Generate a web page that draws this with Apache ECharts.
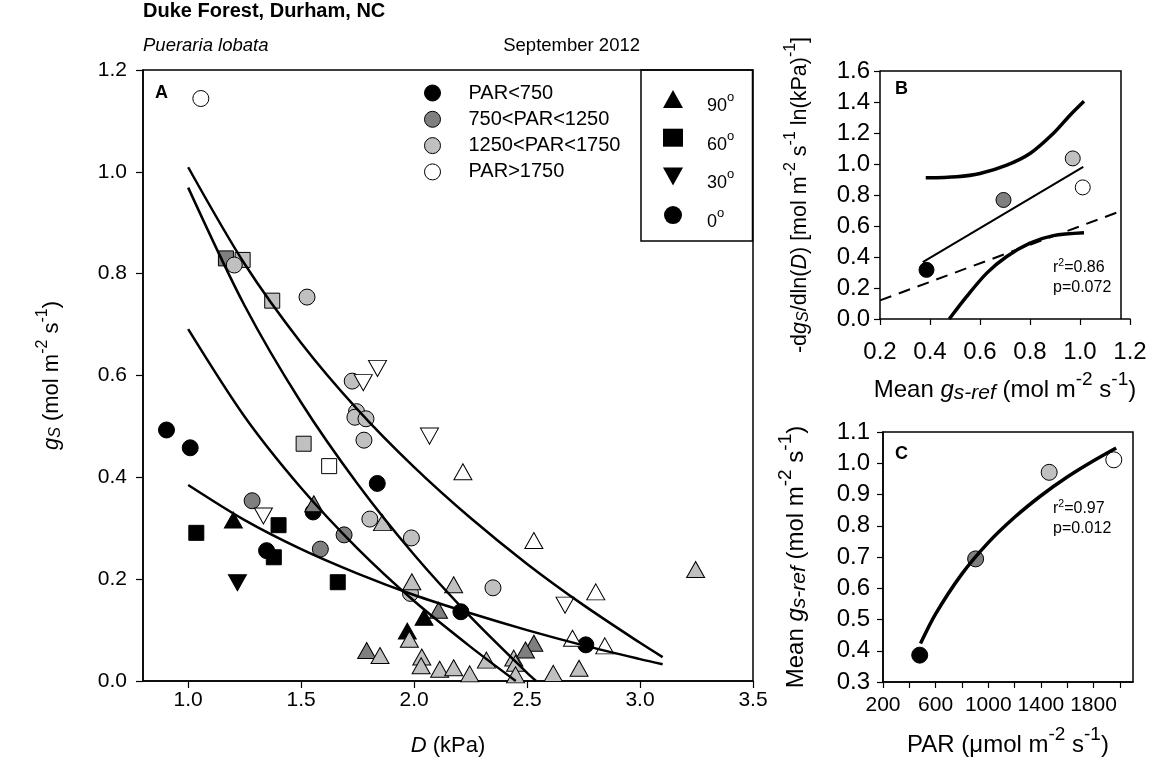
<!DOCTYPE html>
<html><head><meta charset="utf-8">
<script src="https://cdn.jsdelivr.net/npm/echarts@6/dist/echarts.min.js"></script>
<style>html,body{margin:0;padding:0;background:#fff}#c{width:1155px;height:781px}</style>
</head><body><div id="c"></div>
<script>
const FONT = 'Liberation Sans, Arial, Helvetica, sans-serif';

// ---------- Panel A : gs vs D, by PAR class and leaf angle ----------
const parClasses = ['PAR<750', '750<PAR<1250', '1250<PAR<1750', 'PAR>1750'];
const parColors = ['#000000', '#7f7f7f', '#c0c0c0', '#ffffff'];
const angleNames = ['90°', '60°', '30°', '0°'];

// [D (kPa), gs (mol m-2 s-1)]
const par750_deg90 = [[1.200,0.316],[2.044,0.125],[1.970,0.098]];
const par750_deg60 = [[1.036,0.291],[1.400,0.306],[1.379,0.243],[1.662,0.194]];
const par750_deg30 = [[1.218,0.193]];
const par750_deg0  = [[0.904,0.493],[1.009,0.458],[1.347,0.256],[1.553,0.332],[1.837,0.388],[2.207,0.136],[2.760,0.071]];

const par1250_deg90 = [[1.556,0.348],[2.108,0.139],[1.790,0.060],[2.530,0.074],[2.493,0.061]];
const par1250_deg60 = [[1.167,0.830]];
const par1250_deg30 = [];
const par1250_deg0  = [[1.283,0.354],[1.585,0.259],[1.690,0.287]];

const par1750_deg90 = [[1.860,0.311],[1.990,0.195],[2.175,0.189],[1.979,0.082],[1.849,0.050],[2.034,0.047],[2.031,0.030],[2.113,0.023],[2.175,0.026],[2.246,0.014],[2.320,0.041],[2.441,0.045],[2.449,0.035],[2.449,0.012],[2.616,0.015],[2.730,0.025],[3.246,0.219]];
const par1750_deg60 = [[1.241,0.827],[1.372,0.747],[1.511,0.466]];
const par1750_deg30 = [];
const par1750_deg0  = [[1.204,0.817],[1.526,0.754],[1.726,0.589],[1.745,0.529],[1.738,0.518],[1.787,0.515],[1.778,0.473],[1.804,0.318],[1.988,0.281],[1.984,0.172],[2.349,0.183]];

const parHigh_deg90 = [[2.216,0.411],[2.530,0.276],[2.804,0.175],[2.701,0.084],[2.844,0.069]];
const parHigh_deg60 = [[1.624,0.422]];
const parHigh_deg30 = [[1.333,0.324],[1.775,0.586],[1.838,0.614],[2.068,0.481],[2.668,0.149]];
const parHigh_deg0  = [[1.056,1.144]];

// fitted curves: [D, gs]
const fitPar750  = [[1.0,0.385],[1.25,0.316],[1.5,0.259],[1.75,0.211],[2.0,0.169],[2.25,0.133],[2.5,0.100],[2.75,0.070],[3.0,0.043],[3.1,0.033]];
const fitPar1250 = [[1.0,0.691],[1.25,0.519],[1.5,0.379],[1.75,0.260],[2.0,0.157],[2.25,0.067],[2.45,0.0]];
const fitPar1750 = [[1.0,0.969],[1.25,0.737],[1.5,0.547],[1.75,0.387],[2.0,0.248],[2.25,0.126],[2.5,0.016],[2.54,0.0]];
const fitParHigh = [[1.0,1.009],[1.25,0.819],[1.5,0.664],[1.75,0.533],[2.0,0.420],[2.25,0.320],[2.5,0.230],[2.75,0.149],[3.0,0.075],[3.1,0.047]];

const aXTicks = [1.0, 1.5, 2.0, 2.5, 3.0, 3.5];

// ---------- Panel B : sensitivity vs mean gs-ref ----------
const meanGsRef   = [0.386, 0.694, 0.971, 1.011];
const sensitivity = [0.317, 0.768, 1.036, 0.849];
const bRegLine    = [[0.371,0.367],[1.013,0.982]];
const bUpperBand  = [[0.383,0.911],[0.507,0.918],[0.600,0.939],[0.707,0.993],[0.800,1.068],[0.893,1.197],[0.960,1.315],[1.016,1.405]];
const bLowerBand  = [[0.477,0.0],[0.547,0.146],[0.627,0.296],[0.707,0.403],[0.800,0.489],[0.893,0.538],[1.016,0.557]];
const bRefLine    = [[0.2,0.12],[1.17,0.70]];

// ---------- Panel C : mean gs-ref vs PAR ----------
const meanPAR = [479, 904, 1463, 1954];
const cFit = [[485,0.423],[600,0.518],[800,0.646],[1000,0.746],[1200,0.827],[1400,0.896],[1600,0.956],[1800,1.008],[1972,1.049]];
const cXTicks  = [200,400,600,800,1000,1200,1400,1600,1800,2000];
const cXLabels = [200,600,1000,1400,1800];

// ---------- helpers ----------
// rich styles: base text centred in a line of height L, superscripts raised, subscripts dropped
function richFor(base, sup, L, raise, drop, subSize) {
  const c = L / 2;
  const f = {fontFamily: FONT, color: '#000'};
  return {
    t:    Object.assign({fontSize: base, lineHeight: L, verticalAlign: 'middle'}, f),
    i:    Object.assign({fontSize: base, lineHeight: L, verticalAlign: 'middle', fontStyle: 'italic'}, f),
    sup:  Object.assign({fontSize: sup, lineHeight: sup, verticalAlign: 'top', padding: [Math.max(0, c - raise - sup / 2), 0, 0, 0]}, f),
    subi: Object.assign({fontSize: subSize, lineHeight: subSize, verticalAlign: 'top', fontStyle: 'italic', padding: [c + drop - subSize / 2, 0, 0, 0]}, f)
  };
}
const richMainY = richFor(22, 16, 36, 9, 4, 16);
const richSide  = richFor(24, 19, 40, 10, 3, 21);
const richBY    = richFor(21.5, 16, 36, 9, 4, 16);
const richNote  = richFor(16, 10.5, 20, 5, 0, 10);

const DOWN_TRI = 'path://M0,0L20,0L10,18Z';
const shapeOf = {'90': 'triangle', '60': 'rect', '30': DOWN_TRI, '0': 'circle'};
const sizeOf  = {'90': [18,16], '60': 15, '30': [18,16], '0': 16};

const groups = [
  [0,'60',par750_deg60],[0,'0',par750_deg0],[0,'90',par750_deg90],[0,'30',par750_deg30],
  [1,'60',par1250_deg60],[1,'0',par1250_deg0],[1,'90',par1250_deg90],[1,'30',par1250_deg30],
  [2,'60',par1750_deg60],[2,'0',par1750_deg0],[2,'90',par1750_deg90],[2,'30',par1750_deg30],
  [3,'60',parHigh_deg60],[3,'0',parHigh_deg0],[3,'90',parHigh_deg90],[3,'30',parHigh_deg30]
];

const series = [];
groups.forEach(([c, ang, data]) => {
  series.push({
    type: 'scatter', xAxisIndex: 0, yAxisIndex: 0, z: 3,
    name: parClasses[c] + ' / ' + ang,
    data: data,
    symbol: shapeOf[ang], symbolSize: sizeOf[ang],
    itemStyle: {color: parColors[c], borderColor: '#000', borderWidth: 1, opacity: 1},
    emphasis: {disabled: true}
  });
});
[fitPar750, fitPar1250, fitPar1750, fitParHigh].forEach((d, k) => {
  series.push({
    type: 'line', xAxisIndex: 0, yAxisIndex: 0, z: 5, name: 'fit' + k,
    data: d, showSymbol: false, smooth: 0.3,
    lineStyle: {color: '#000', width: 2.5}, emphasis: {disabled: true}
  });
});
// legend-only series
parClasses.forEach((n, i) => series.push({type: 'scatter', name: n, data: [], symbol: 'circle',
  itemStyle: {color: parColors[i], borderColor: '#000', borderWidth: 1, opacity: 1}}));
angleNames.forEach(n => series.push({type: 'scatter', name: n, data: [], itemStyle: {color: '#000', opacity: 1}}));

// panel B
series.push({type: 'line', xAxisIndex: 1, yAxisIndex: 1, data: bRefLine, showSymbol: false, z: 4,
  lineStyle: {color: '#000', width: 2, type: [12, 8]}, emphasis: {disabled: true}});
series.push({type: 'line', xAxisIndex: 1, yAxisIndex: 1, data: bRegLine, showSymbol: false, z: 4,
  lineStyle: {color: '#000', width: 2}, emphasis: {disabled: true}});
series.push({type: 'line', xAxisIndex: 1, yAxisIndex: 1, data: bUpperBand, showSymbol: false, z: 4, smooth: 0.3,
  lineStyle: {color: '#000', width: 3.5}, emphasis: {disabled: true}});
series.push({type: 'line', xAxisIndex: 1, yAxisIndex: 1, data: bLowerBand, showSymbol: false, z: 4, smooth: 0.3,
  lineStyle: {color: '#000', width: 3.5}, emphasis: {disabled: true}});
series.push({type: 'scatter', xAxisIndex: 1, yAxisIndex: 1, z: 5, symbol: 'circle', symbolSize: 15,
  data: meanGsRef.map((x, i) => ({value: [x, sensitivity[i]], itemStyle: {color: parColors[i]}})),
  itemStyle: {borderColor: '#000', borderWidth: 1, opacity: 1}, emphasis: {disabled: true}});

// panel C
series.push({type: 'line', xAxisIndex: 2, yAxisIndex: 2, data: cFit, showSymbol: false, z: 4, smooth: 0.3,
  lineStyle: {color: '#000', width: 3.5}, emphasis: {disabled: true}});
series.push({type: 'scatter', xAxisIndex: 2, yAxisIndex: 2, z: 3, symbol: 'circle', symbolSize: 16,
  data: meanPAR.map((x, i) => ({value: [x, meanGsRef[i]], itemStyle: {color: parColors[i]}})),
  itemStyle: {borderColor: '#000', borderWidth: 1, opacity: 1}, emphasis: {disabled: true}});

function valAxis(o) {
  return Object.assign({
    type: 'value',
    axisLine: {show: true, onZero: false, lineStyle: {color: '#000', width: 1.5}},
    axisTick: {show: true, inside: false, length: 6, lineStyle: {color: '#000', width: 1.2}},
    splitLine: {show: false},
    nameLocation: 'middle'
  }, o);
}
const lab = (size, margin, extra) => Object.assign({fontSize: size, color: '#000', fontFamily: FONT, margin: margin,
  formatter: v => Number(v).toFixed(1)}, extra || {});

const option = {
  animation: false,
  backgroundColor: '#fff',
  textStyle: {fontFamily: FONT},
  grid: [
    {left: 143, top: 70, width: 610, height: 611, show: true, borderColor: '#000', borderWidth: 1.5, backgroundColor: 'transparent'},
    {left: 880, top: 71, width: 250, height: 248},
    {left: 883, top: 432, width: 250, height: 250, show: true, borderColor: '#000', borderWidth: 1.5, backgroundColor: 'transparent'}
  ],
  xAxis: [
    valAxis({gridIndex: 0, min: 0.8, max: 3.5,
      axisTick: {show: true, length: 7, customValues: aXTicks, lineStyle: {color: '#000', width: 1.2}},
      axisLabel: lab(21, 9, {customValues: aXTicks}),
      name: '{i|D}{t| (kPa)}', nameGap: 54, nameTextStyle: {rich: richFor(22, 16, 22, 0, 0, 16)}}),
    valAxis({gridIndex: 1, min: 0.2, max: 1.2, interval: 0.2,
      axisLabel: lab(24, 21),
      name: '{t|Mean }{i|g}{subi|s-ref}{t| (mol m}{sup|-2}{t| s}{sup|-1}{t|)}', nameGap: 51,
      nameTextStyle: {rich: richSide}}),
    valAxis({gridIndex: 2, min: 200, max: 2100,
      axisTick: {show: true, length: 6, customValues: cXTicks, lineStyle: {color: '#000', width: 1.2}},
      axisLabel: {customValues: cXLabels, fontSize: 21, color: '#000', fontFamily: FONT, margin: 13, formatter: v => String(v)},
      name: '{t|PAR (μmol m}{sup|-2}{t| s}{sup|-1}{t|)}', nameGap: 43,
      nameTextStyle: {rich: richSide}})
  ],
  yAxis: [
    valAxis({gridIndex: 0, min: 0, max: 1.2, interval: 0.2,
      axisTick: {show: true, length: 7, lineStyle: {color: '#000', width: 1.2}},
      axisLabel: lab(21, 16),
      name: '{i|g}{subi|S}{t| (mol m}{sup|-2}{t| s}{sup|-1}{t|)}', nameGap: 73, nameRotate: 90,
      nameTextStyle: {rich: richMainY}}),
    valAxis({gridIndex: 1, min: 0, max: 1.6, interval: 0.2,
      axisLabel: lab(24, 10),
      name: '{t|-d}{i|g}{subi|S}{t|/dln(}{i|D}{t|) [mol m}{sup|-2}{t| s}{sup|-1}{t| ln(kPa)}{sup|-1}{t|]}',
      nameGap: 62, nameRotate: 90, nameTextStyle: {rich: richBY}}),
    valAxis({gridIndex: 2, min: 0.3, max: 1.1, interval: 0.1,
      axisLabel: lab(24, 13),
      name: '{t|Mean }{i|g}{subi|s-ref}{t| (mol m}{sup|-2}{t| s}{sup|-1}{t|)}', nameGap: 67, nameRotate: 90,
      nameTextStyle: {rich: richSide}})
  ],
  legend: [
    {orient: 'vertical', left: 424, top: 83, padding: 0, itemWidth: 16, itemHeight: 16, itemGap: 6.3,
     selectedMode: false,
     formatter: n => '{a|' + n + '}',
     textStyle: {color: '#000', fontFamily: FONT, rich: {
       a: {fontSize: 20, lineHeight: 20, padding: [0, 0, 0, 23], fontFamily: FONT, color: '#000'}}},
     data: parClasses.map((n, i) => ({name: n, icon: 'circle',
       itemStyle: {color: parColors[i], borderColor: '#000', borderWidth: 1, opacity: 1}}))},
    {orient: 'vertical', left: 663, top: 84, padding: 0, itemWidth: 20, itemHeight: 18, itemGap: 7.7,
     selectedMode: false,
     formatter: n => '{n|' + n.replace('°', '') + '}{s|o}',
     textStyle: {color: '#000', fontFamily: FONT, rich: {
       n: {fontSize: 18, lineHeight: 30, verticalAlign: 'top', padding: [13, 0, 0, 19], fontFamily: FONT, color: '#000'},
       s: {fontSize: 13, lineHeight: 13, verticalAlign: 'top', padding: [7, 0, 0, 0], fontFamily: FONT, color: '#000'}}},
     data: angleNames.map(n => ({name: n, icon: shapeOf[n.replace('°', '')],
       itemStyle: {color: '#000', borderWidth: 0, opacity: 1}}))}
  ],
  graphic: [
    {type: 'rect', shape: {x: 641, y: 70, width: 111.5, height: 171}, style: {fill: 'none', stroke: '#000', lineWidth: 1.5}, silent: true},
    {type: 'polyline', shape: {points: [[880, 71], [1121, 71], [1121, 319]]}, style: {fill: 'none', stroke: '#000', lineWidth: 1.5}, silent: true},
    {type: 'text', left: 143, top: 1, style: {text: 'Duke Forest, Durham, NC', fontSize: 20, fontWeight: 'bold', fontFamily: FONT, fill: '#000'}},
    {type: 'text', left: 143, top: 36, style: {text: 'Pueraria lobata', fontSize: 18.5, fontStyle: 'italic', fontFamily: FONT, fill: '#000'}},
    {type: 'text', right: 515, top: 36, style: {text: 'September 2012', fontSize: 18.5, fontFamily: FONT, fill: '#000'}},
    {type: 'text', left: 155, top: 84, style: {text: 'A', fontSize: 18, fontWeight: 'bold', fontFamily: FONT, fill: '#000'}},
    {type: 'text', left: 895, top: 80, style: {text: 'B', fontSize: 18, fontWeight: 'bold', fontFamily: FONT, fill: '#000'}},
    {type: 'text', left: 895, top: 445, style: {text: 'C', fontSize: 18, fontWeight: 'bold', fontFamily: FONT, fill: '#000'}},
    {type: 'text', left: 1053, top: 258, style: {text: '{t|r}{sup|2}{t|=0.86}', rich: richNote}},
    {type: 'text', left: 1053, top: 280, style: {text: 'p=0.072', fontSize: 16, fontFamily: FONT, fill: '#000'}},
    {type: 'text', left: 1053, top: 499, style: {text: '{t|r}{sup|2}{t|=0.97}', rich: richNote}},
    {type: 'text', left: 1053, top: 521, style: {text: 'p=0.012', fontSize: 16, fontFamily: FONT, fill: '#000'}}
  ],
  series: series
};

const chart = echarts.init(document.getElementById('c'), null, {renderer: 'canvas'});
chart.setOption(option);
</script>
</body></html>
